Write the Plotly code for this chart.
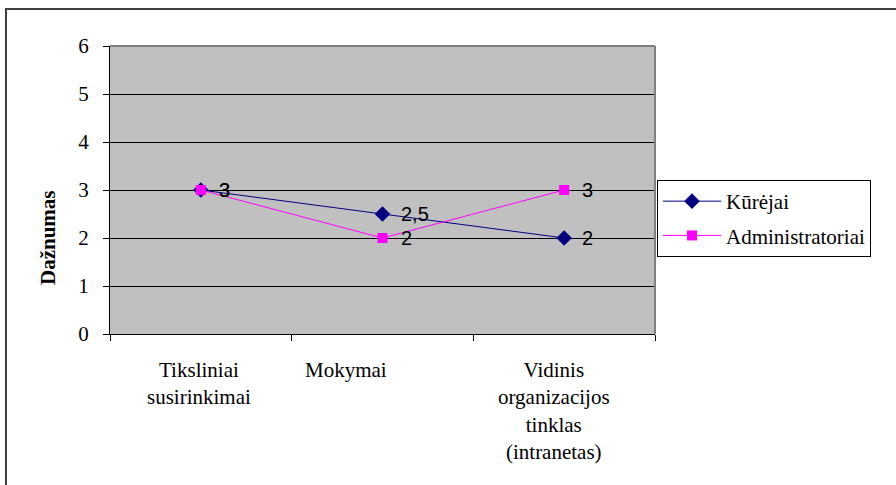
import plotly.graph_objects as go

# Survey frequencies per communication channel
categories = ["Tiksliniai susirinkimai", "Mokymai", "Vidinis organizacijos tinklas (intranetas)"]
category_lines = [
    "Tiksliniai<br>susirinkimai",
    "Mokymai",
    "Vidinis<br>organizacijos<br>tinklas<br>(intranetas)",
]
kurejai = [3, 2.5, 2]
administratoriai = [3, 2, 3]
y_ticks = [0, 1, 2, 3, 4, 5, 6]

SERIF = "Liberation Serif"
SANS = "Liberation Sans"

W, H = 896, 485
L, R, T, B = 110, 241, 46, 151

fig = go.Figure()
fig.add_trace(go.Scatter(
    x=categories, y=kurejai, name="Kūrėjai", mode="lines+markers",
    line=dict(color="#000080", width=1),
    marker=dict(symbol="diamond", size=12, color="#000080"),
    legendgroup="a",
))
fig.add_trace(go.Scatter(
    x=categories, y=administratoriai, name="Administratoriai", mode="lines+markers",
    line=dict(color="#FF00FF", width=1),
    marker=dict(symbol="square", size=10, color="#FF00FF"),
    legendgroup="b",
))


def fmt(v):
    s = f"{v:g}"
    return s.replace(".", ",")


annotations = []
# value labels to the right of each point
for series in (kurejai, administratoriai):
    for c, v in zip(categories, series):
        annotations.append(dict(
            x=c, y=v, xref="x", yref="y", text=fmt(v), showarrow=False,
            xanchor="left", yanchor="middle", xshift=16,
            font=dict(family=SANS, size=20, color="black"),
        ))

# category labels under the axis
label_shift = [-2, -37, -10]
for c, txt, dx in zip(categories, category_lines, label_shift):
    annotations.append(dict(
        x=c, y=0, xref="x", yref="paper", text=txt, showarrow=False,
        xanchor="center", yanchor="top", yshift=-22, xshift=dx, align="center",
        font=dict(family=SERIF, size=21, color="black"),
    ))

# y-axis title
annotations.append(dict(
    x=(48 - L) / (W - L - R), y=(334 - 238) / 288, xref="paper", yref="paper",
    text="<b>Dažnumas</b>", textangle=-90, showarrow=False,
    xanchor="center", yanchor="middle",
    font=dict(family=SERIF, size=21, color="black"),
))

pw, ph = W - L - R, H - T - B


def px(x):
    return (x - L) / pw


def py(y):
    return (T + ph - y) / ph


shapes = [
    # chart area frame
    dict(type="rect", xref="paper", yref="paper",
         x0=px(6), x1=px(905), y0=py(9), y1=py(495),
         line=dict(color="#404040", width=2), fillcolor="rgba(0,0,0,0)", layer="below"),
    # plot area top and right border
    dict(type="line", xref="paper", yref="paper", x0=0, x1=1, y0=1, y1=1,
         line=dict(color="#808080", width=2)),
    dict(type="line", xref="paper", yref="paper", x0=1, x1=1, y0=0, y1=1,
         line=dict(color="#808080", width=2)),
]

fig.update_layout(
    width=W, height=H,
    margin=dict(l=L, r=R, t=T, b=B),
    paper_bgcolor="white",
    plot_bgcolor="#C0C0C0",
    font=dict(family=SERIF, size=21, color="black"),
    showlegend=True,
    legend=dict(
        x=px(657), y=py(180), xanchor="left", yanchor="top",
        bordercolor="black", borderwidth=1, bgcolor="white",
        font=dict(family=SERIF, size=21, color="black"),
        traceorder="grouped", tracegroupgap=4, itemwidth=58,
    ),
    annotations=annotations,
    shapes=shapes,
)
fig.update_xaxes(
    type="category", range=[-0.5, 2.5], tickson="boundaries", ticks="outside", ticklen=6,
    tickcolor="black", showticklabels=False, showgrid=False,
    showline=True, linecolor="black", linewidth=1, zeroline=False,
)
fig.update_yaxes(
    range=[0, 6], tickvals=y_ticks, ticks="outside", ticklen=6, tickcolor="black",
    showgrid=True, gridcolor="black", gridwidth=1,
    showline=True, linecolor="black", linewidth=1, zeroline=False,
    ticklabelstandoff=10,
    tickfont=dict(family=SERIF, size=21, color="black"),
)

fig.write_html("out.html")
